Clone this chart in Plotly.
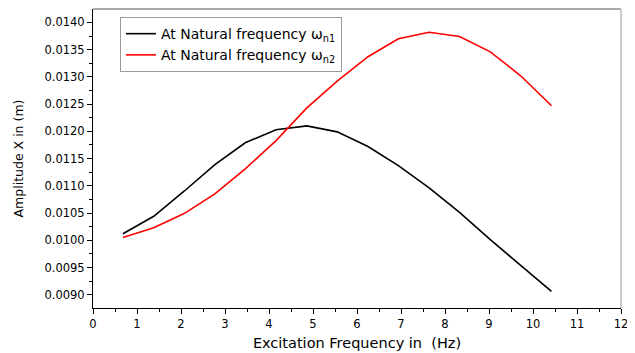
import plotly.graph_objects as go

freq_hz = [0.68, 1.38, 2.07, 2.77, 3.46, 4.16, 4.86, 5.55, 6.25, 6.94, 7.64, 8.33, 9.03, 9.72, 10.42]
amp_n1 = [0.01012, 0.01044, 0.01090, 0.01139, 0.01179, 0.01203, 0.01210, 0.01199, 0.01172,
          0.01137, 0.01096, 0.01051, 0.01001, 0.00954, 0.00906]
amp_n2 = [0.01005, 0.01023, 0.01049, 0.01085, 0.01131, 0.01183, 0.01243, 0.01292, 0.01337,
          0.01370, 0.01382, 0.01374, 0.01346, 0.01302, 0.01247]
names = ["At Natural frequency ω<sub>n1</sub>", "At Natural frequency ω<sub>n2</sub>"]
x_title = "Excitation Frequency in  (Hz)"
y_title = "Amplitude X in (m)"

font_family = "DejaVu Sans, Verdana, sans-serif"

# The page body has an 8px default margin, so the figure is sized to fit the window.
fig = go.Figure()
fig.add_trace(go.Scatter(x=freq_hz, y=amp_n1, mode="lines", name=names[0],
                         line=dict(color="black", width=1.6)))
fig.add_trace(go.Scatter(x=freq_hz, y=amp_n2, mode="lines", name=names[1],
                         line=dict(color="#ff0000", width=1.6)))

fig.update_layout(
    width=627, height=345,
    margin=dict(l=85, r=14, t=1, b=45),
    paper_bgcolor="white", plot_bgcolor="white",
    font=dict(family=font_family, size=11.5, color="black"),
    showlegend=True,
    legend=dict(x=0.051, y=0.973, xanchor="left", yanchor="top",
                bordercolor="#9a9a9a", borderwidth=1, bgcolor="white",
                font=dict(size=14, family=font_family),
                tracegroupgap=0, itemwidth=30),
    xaxis=dict(range=[0, 12], dtick=1, tick0=0, showgrid=False, zeroline=False,
               automargin=False,
               showline=True, linecolor="black", linewidth=1,
               ticks="outside", ticklen=5, tickcolor="black",
               minor=dict(dtick=0.5, ticks="outside", ticklen=3, tickcolor="black", showgrid=False),
               title=dict(text=x_title, font=dict(size=14.5), standoff=8),
               tickfont=dict(size=11.5)),
    yaxis=dict(range=[0.008756, 0.014246], dtick=0.0005, tick0=0, tickformat=".4f",
               showgrid=False, zeroline=False, automargin=False,
               showline=True, linecolor="black", linewidth=1,
               ticks="outside", ticklen=5, tickcolor="black",
               minor=dict(dtick=0.00025, ticks="outside", ticklen=3, tickcolor="black", showgrid=False),
               title=dict(text=y_title, font=dict(size=12.5), standoff=18),
               tickfont=dict(size=11.5)),
)

# frame: top and right edges
fig.add_shape(type="line", xref="paper", yref="paper", x0=0, x1=1, y0=1, y1=1,
              line=dict(color="#555555", width=1))
fig.add_shape(type="line", xref="paper", yref="paper", x0=1, x1=1, y0=0, y1=1,
              line=dict(color="#cccccc", width=2))

fig.write_html("out.html")
